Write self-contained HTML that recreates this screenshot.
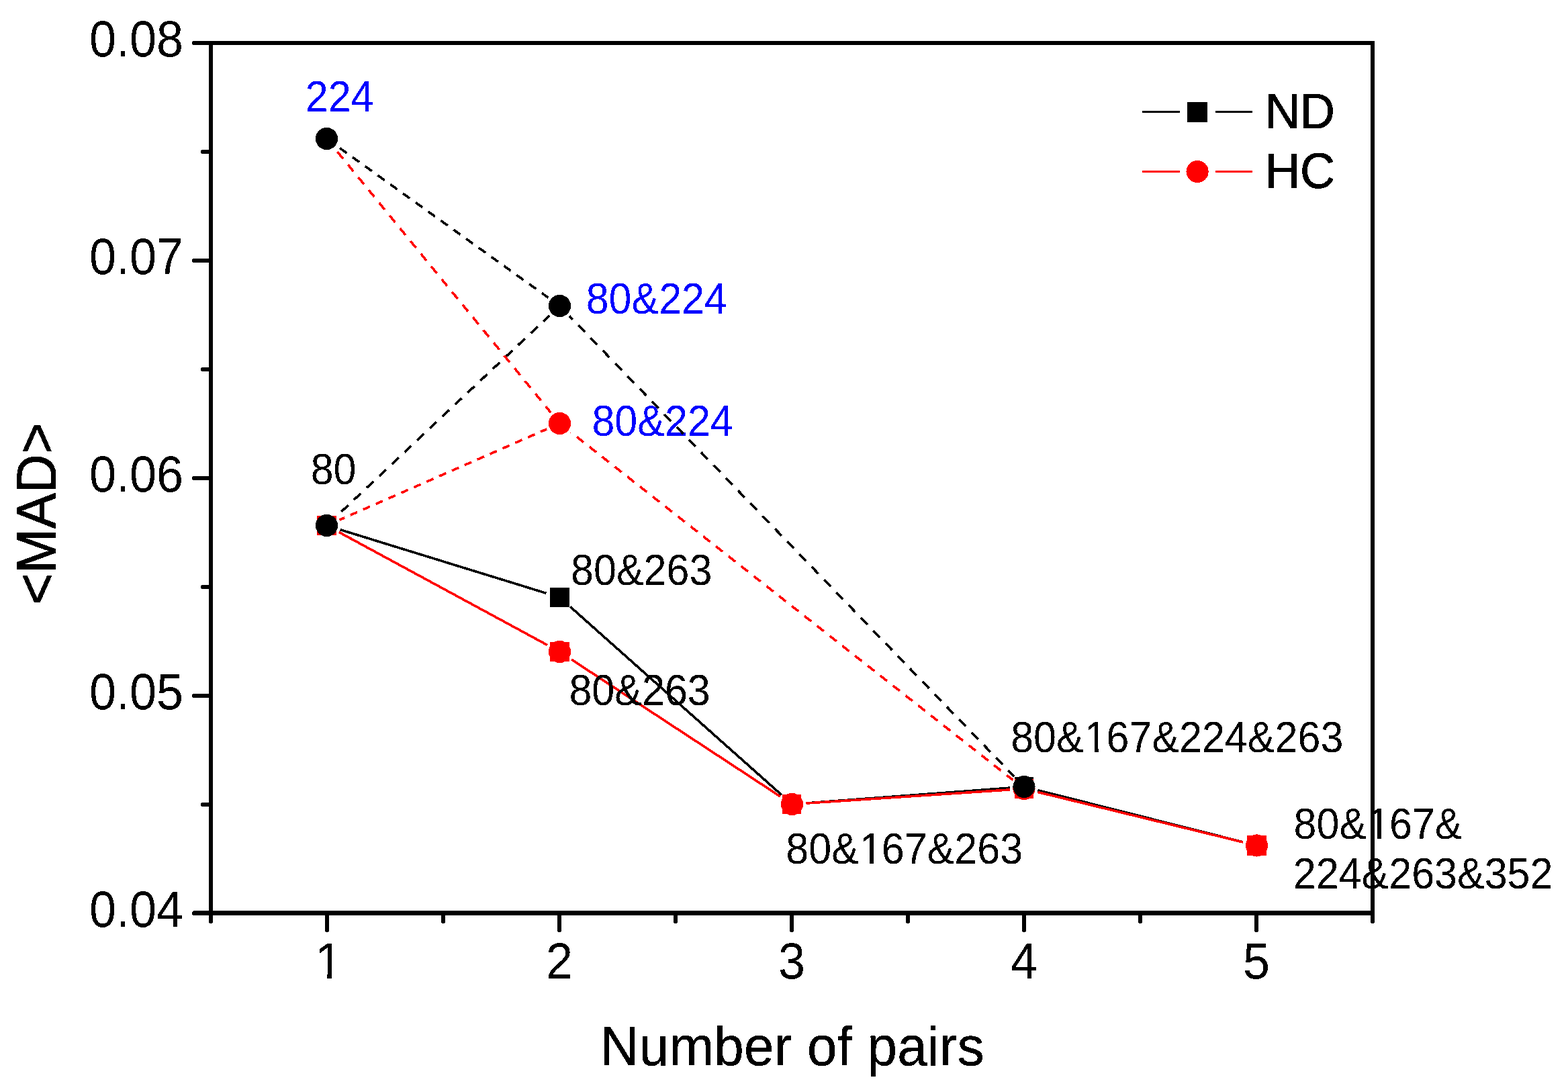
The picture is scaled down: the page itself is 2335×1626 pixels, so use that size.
<!DOCTYPE html>
<html lang="en">
<head>
<meta charset="utf-8">
<title>&lt;MAD&gt; versus number of pairs</title>
<style>
html,body{margin:0;padding:0;background:#fff;}
body{width:2335px;height:1626px;}
svg{display:block;}
text{font-kerning:none;white-space:pre;}
</style>
</head>
<body>
<svg width="2335" height="1626" viewBox="0 0 2335 1626">
<rect x="0" y="0" width="2335" height="1626" fill="#fff"/>
<defs><filter id="bin" filterUnits="userSpaceOnUse" x="0" y="0" width="2335" height="1626" color-interpolation-filters="sRGB"><feComponentTransfer><feFuncA type="discrete" tableValues="0 1"/></feComponentTransfer></filter></defs>
<g id="labels-blue" font-family="'Liberation Sans', Arial, Helvetica, sans-serif" fill="#0000ff" filter="url(#bin)">
<text transform="translate(454.73 165.5) scale(1 1.0600)" font-size="61">224</text>
<text transform="translate(872.65 467) scale(1 1.0600)" font-size="61">80&amp;224</text>
<text transform="translate(881.45 649) scale(1 1.0600)" font-size="61">80&amp;224</text>
</g>
<g id="lines" fill="none" stroke-width="3.6" stroke-linecap="butt" shape-rendering="crispEdges">
<line x1="506.57" y1="788.69" x2="813.43" y2="883.31" stroke="#000000"/>
<line x1="849.19" y1="903.46" x2="1163.81" y2="1183.54" stroke="#000000"/>
<line x1="1200.44" y1="1195.92" x2="1504.06" y2="1173.08" stroke="#000000"/>
<line x1="1545.36" y1="1176.64" x2="1851.14" y2="1253.86" stroke="#000000"/>
<line x1="504.96" y1="792.5" x2="815.04" y2="960.5" stroke="#ff0000"/>
<line x1="851.06" y1="982.02" x2="1161.94" y2="1185.98" stroke="#ff0000"/>
<line x1="1200.45" y1="1196.11" x2="1504.05" y2="1175.89" stroke="#ff0000"/>
<line x1="1545.4" y1="1179.48" x2="1851.1" y2="1254.02" stroke="#ff0000"/>
<line x1="503.56" y1="218.74" x2="816.44" y2="443.26" stroke="#000000" stroke-dasharray="12.55 10.58" stroke-dashoffset="19.95"/>
<line x1="848.09" y1="470.61" x2="1510.41" y2="1156.39" stroke="#000000" stroke-dasharray="14.18 12.16" stroke-dashoffset="7.51"/>
<line x1="501.78" y1="768.1" x2="818.22" y2="469.9" stroke="#000000" stroke-dasharray="14.02 11.82" stroke-dashoffset="16.83"/>
<line x1="499.8" y1="222.75" x2="820.2" y2="614.25" stroke="#ff0000" stroke-dasharray="13.18 11.31" stroke-dashoffset="20.11"/>
<line x1="850" y1="643.48" x2="1508.5" y2="1161.52" stroke="#ff0000" stroke-dasharray="12.98 10.98" stroke-dashoffset="12.62"/>
<line x1="505.74" y1="774.07" x2="814.26" y2="638.93" stroke="#ff0000" stroke-dasharray="11.14 9.47" stroke-dashoffset="3.04"/>
</g>
<g id="markers" shape-rendering="crispEdges">
<rect x="472" y="768" width="29" height="29" fill="#000000"/>
<rect x="819" y="875" width="29" height="29" fill="#000000"/>
<rect x="1165" y="1183" width="28" height="29" fill="#000000"/>
<rect x="1511" y="1157" width="28" height="29" fill="#000000"/>
<rect x="1857" y="1244" width="29" height="30" fill="#000000"/>
<rect x="472" y="768" width="29" height="29" fill="#ff0000"/>
<rect x="819" y="956" width="29" height="29" fill="#ff0000"/>
<rect x="1165" y="1183" width="28" height="29" fill="#ff0000"/>
<rect x="1511" y="1160" width="28" height="29" fill="#ff0000"/>
<rect x="1857" y="1244" width="29" height="30" fill="#ff0000"/>
<circle cx="486.5" cy="782.5" r="16.6" fill="#ff0000"/>
<circle cx="833.5" cy="970.5" r="16.6" fill="#ff0000"/>
<circle cx="1179.5" cy="1197.5" r="16.6" fill="#ff0000"/>
<circle cx="1525" cy="1174.5" r="16.6" fill="#ff0000"/>
<circle cx="1871.5" cy="1259" r="16.6" fill="#ff0000"/>
<circle cx="833.5" cy="630.5" r="16.6" fill="#ff0000"/>
<circle cx="486.5" cy="206.5" r="16.6" fill="#000000"/>
<circle cx="833.5" cy="455.5" r="16.6" fill="#000000"/>
<circle cx="486.5" cy="782.5" r="16.6" fill="#000000"/>
<circle cx="1525" cy="1171.5" r="16.6" fill="#000000"/>
</g>
<g id="axes" shape-rendering="crispEdges">
<path fill="#000" d="M311 61H2047V1363H311ZM317 67V1356H2041V67Z"/>
<g stroke="#000" stroke-width="6" fill="none" stroke-linecap="round">
<path d="M302 1198H313M289 1036H313M302 874H313M289 712H313M302 550H313M289 388H313M302 226H313M289 64H313M314 1360V1372.2M487 1360V1385M660 1360V1372.2M833 1360V1385M1006 1360V1372.2M1179 1360V1385M1352 1360V1372.2M1525 1360V1385M1698 1360V1372.2M1871 1360V1385M2044 1360V1372.2"/>
<path stroke-width="7" d="M289.5 1359.5H313"/>
</g>
</g>
<g id="legend" shape-rendering="crispEdges">
<path d="M1701 166.6H1757M1810 166.6H1865" stroke="#000000" stroke-width="3" fill="none"/>
<rect x="1768" y="152" width="30" height="30" fill="#000000"/>
<path d="M1701 255.4H1757M1810 255.4H1865" stroke="#ff0000" stroke-width="3" fill="none"/>
<circle cx="1783.1" cy="255.5" r="16.6" fill="#ff0000"/>
</g>
<g id="text" font-family="'Liberation Sans', Arial, Helvetica, sans-serif" fill="#000" filter="url(#bin)">
<g id="yticks" text-anchor="end">
<text transform="translate(273.1 1379.7) scale(1 1.0550)" font-size="72">0.04</text>
<text transform="translate(273.1 1055.83) scale(1 1.0550)" font-size="72">0.05</text>
<text transform="translate(273.1 731.95) scale(1 1.0550)" font-size="72">0.06</text>
<text transform="translate(273.1 408.07) scale(1 1.0550)" font-size="72">0.07</text>
<text transform="translate(273.1 84.2) scale(1 1.0550)" font-size="72">0.08</text>
</g>
<g id="xticks">
<clipPath id="one1"><path clip-rule="evenodd" d="M456.98 1378H517.02V1478.8H456.98ZM473.03 1450.83H487.25V1459.2H473.03ZM494.41 1450.83H508.07V1459.2H494.41Z"/></clipPath>
<g clip-path="url(#one1)"><text transform="translate(466.98 1457.2) scale(1 1.0550)" font-size="72" text-anchor="start"><tspan dx="2.57">1</tspan></text></g>
<text transform="translate(833 1457.2) scale(1 1.0550)" font-size="72" text-anchor="middle">2</text>
<text transform="translate(1179 1457.2) scale(1 1.0550)" font-size="72" text-anchor="middle">3</text>
<text transform="translate(1525 1457.2) scale(1 1.0550)" font-size="72" text-anchor="middle">4</text>
<text transform="translate(1871 1457.2) scale(1 1.0550)" font-size="72" text-anchor="middle">5</text>
</g>
<g id="titles" stroke="#000" stroke-width="0.8" stroke-linejoin="round">
<g stroke-width="0.4">
<text transform="translate(893.84 1585.9) scale(1 1.0100)" font-size="80" letter-spacing="0.2">Number of pairs</text>
</g>
<text transform="translate(82.8 765) rotate(-90) scale(1 1.0405)" font-size="80" text-anchor="middle">&lt;MAD&gt;</text>
<text transform="translate(1884.1 191.1) scale(1 1.0405)" font-size="72">ND</text>
<text transform="translate(1884.1 279.9) scale(1 1.0405)" font-size="72">HC</text>
</g>
<text transform="translate(462.65 721) scale(1 1.0600)" font-size="61">80</text>
<text transform="translate(850.05 871) scale(1 1.0600)" font-size="61">80&amp;263</text>
<text transform="translate(847.45 1050) scale(1 1.0600)" font-size="61">80&amp;263</text>
<clipPath id="one2"><path clip-rule="evenodd" d="M1495.15 1052.9H2010.39V1138.3H1495.15ZM1617.38 1114.47H1629.67V1122H1617.38ZM1635.86 1114.47H1647.68V1122H1635.86Z"/></clipPath>
<g clip-path="url(#one2)"><text transform="translate(1505.15 1120) scale(1 1.0600)" font-size="61" text-anchor="start">80&amp;<tspan dx="1.04">1</tspan><tspan dx="-1.04">67&amp;224&amp;263</tspan></text></g>
<clipPath id="one3"><path clip-rule="evenodd" d="M1160.35 1218.9H1533.12V1304.3H1160.35ZM1282.58 1280.47H1294.87V1288H1282.58ZM1301.06 1280.47H1312.88V1288H1301.06Z"/></clipPath>
<g clip-path="url(#one3)"><text transform="translate(1170.35 1286) scale(1 1.0600)" font-size="61" text-anchor="start">80&amp;<tspan dx="1.04">1</tspan><tspan dx="-1.04">67&amp;263</tspan></text></g>
<clipPath id="one4"><path clip-rule="evenodd" d="M1916.55 1181.9H2187.55V1267.3H1916.55ZM2038.78 1243.47H2051.07V1251H2038.78ZM2057.26 1243.47H2069.08V1251H2057.26Z"/></clipPath>
<g clip-path="url(#one4)"><text transform="translate(1926.55 1249) scale(1 1.0600)" font-size="61" text-anchor="start">80&amp;<tspan dx="1.04">1</tspan><tspan dx="-1.04">67&amp;</tspan></text></g>
<text transform="translate(1925.83 1323.5) scale(1 1.0600)" font-size="61">224&amp;263&amp;352</text>
</g>
</svg>
</body>
</html>
